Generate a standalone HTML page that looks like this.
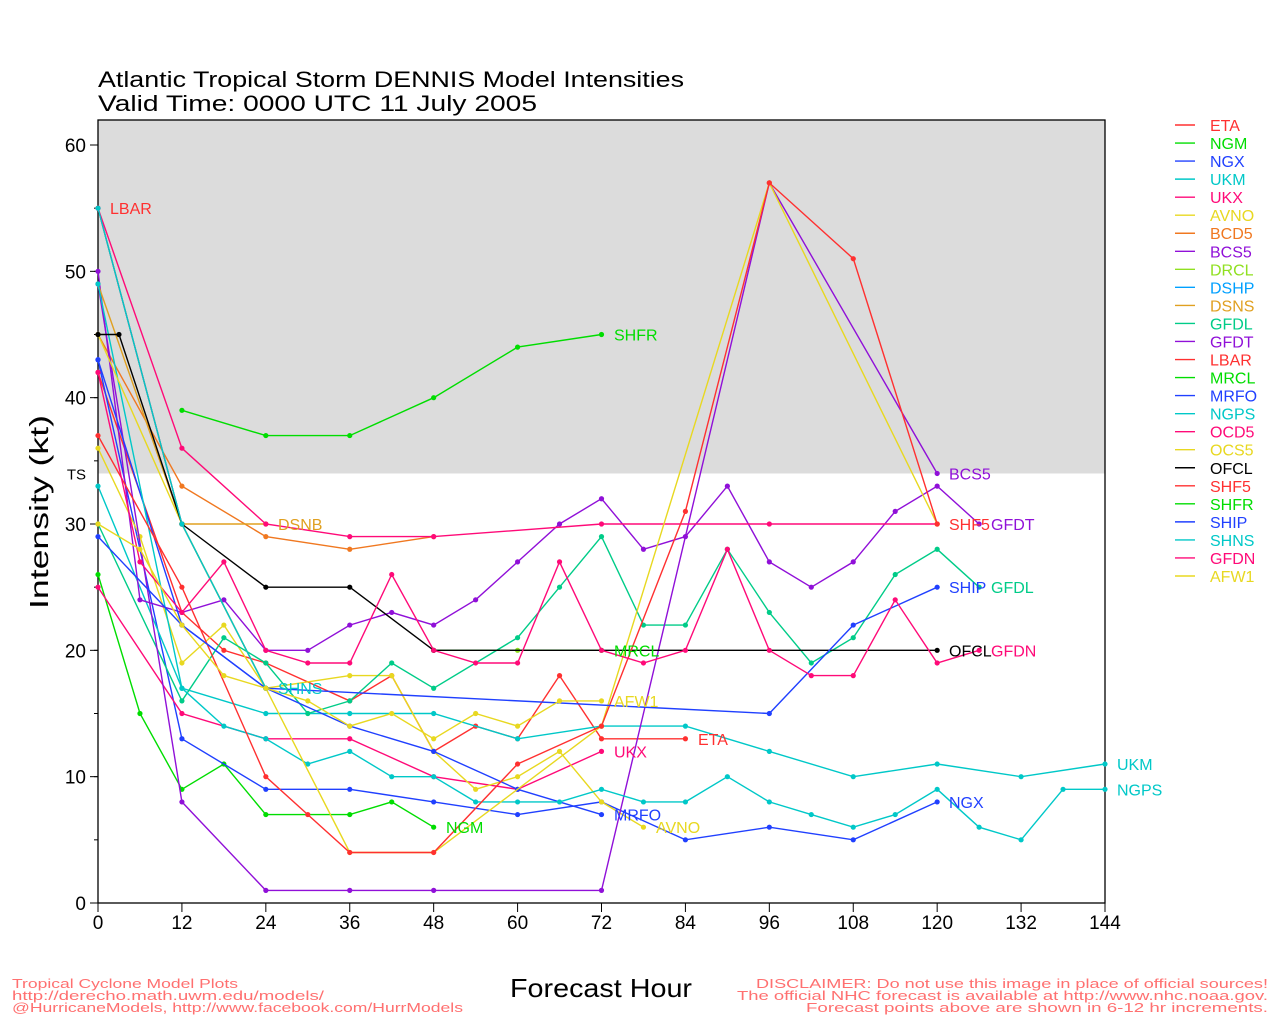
<!DOCTYPE html>
<html><head><meta charset="utf-8"><style>
html,body{margin:0;padding:0;background:#fff;width:1280px;height:1024px;overflow:hidden}
svg text{font-family:"Liberation Sans",sans-serif}
</style></head><body>
<svg id="s" width="1280" height="1024" xmlns="http://www.w3.org/2000/svg">
<rect x="98" y="120" width="1007" height="353.5" fill="#dcdcdc"/>
<rect x="98" y="120" width="1007" height="783" fill="none" stroke="#000" stroke-width="1.3"/>
<text x="98" y="87" font-size="22" textLength="586" lengthAdjust="spacingAndGlyphs">Atlantic Tropical Storm DENNIS Model Intensities</text>
<text x="98" y="111" font-size="22" textLength="439" lengthAdjust="spacingAndGlyphs">Valid Time: 0000 UTC 11 July 2005</text>
<text x="48" y="512" font-size="26" transform="rotate(-90 48 512)" text-anchor="middle" textLength="194" lengthAdjust="spacingAndGlyphs">Intensity (kt)</text>
<text x="601" y="997" font-size="26" text-anchor="middle" textLength="182" lengthAdjust="spacingAndGlyphs">Forecast Hour</text>
<g font-size="13" fill="#ff7070">
<text x="12" y="988" textLength="226" lengthAdjust="spacingAndGlyphs">Tropical Cyclone Model Plots</text>
<text x="12" y="1000" textLength="312" lengthAdjust="spacingAndGlyphs">http://derecho.math.uwm.edu/models/</text>
<text x="12" y="1012" textLength="451" lengthAdjust="spacingAndGlyphs">@HurricaneModels, http://www.facebook.com/HurrModels</text>
<text x="1268" y="988" text-anchor="end" textLength="512" lengthAdjust="spacingAndGlyphs">DISCLAIMER: Do not use this image in place of official sources!</text>
<text x="1268" y="1000" text-anchor="end" textLength="531" lengthAdjust="spacingAndGlyphs">The official NHC forecast is available at http://www.nhc.noaa.gov.</text>
<text x="1268" y="1012" text-anchor="end" textLength="462" lengthAdjust="spacingAndGlyphs">Forecast points above are shown in 6-12 hr increments.</text>
</g>
<g id="ax"></g><g id="ser"></g><g id="leg"></g>
</svg>
<script>
var NS="http://www.w3.org/2000/svg";
function X(h){return 98+h*1007/144}
function Y(v){return 903-v*758/60}
function el(p,t,a,txt){var e=document.createElementNS(NS,t);for(var k in a)e.setAttribute(k,a[k]);if(txt!=null)e.textContent=txt;p.appendChild(e);return e}
var ax=document.getElementById('ax'),ser=document.getElementById('ser'),leg=document.getElementById('leg');
for(var v=0;v<=60;v+=10){el(ax,'line',{x1:90,x2:98,y1:Y(v),y2:Y(v),stroke:'#000'});el(ax,'text',{x:86,y:Y(v)+7,'font-size':19,'text-anchor':'end'},v)}
for(var v=0;v<=60;v+=5){el(ax,'line',{x1:94,x2:98,y1:Y(v),y2:Y(v),stroke:'#000'})}
el(ax,'text',{x:86,y:Y(34)+6,'font-size':15,'text-anchor':'end'},'TS');
for(var h=0;h<=144;h+=12){el(ax,'line',{x1:X(h),x2:X(h),y1:903,y2:912,stroke:'#000'});el(ax,'text',{x:X(h),y:929,'font-size':19,'text-anchor':'middle'},h)}
var C={r:'#ff3030',g:'#00dd00',b:'#2040ff',c:'#00c8c8',p:'#ff0a78',y:'#e8d820',o:'#f07820',v:'#9010d8',lg:'#90e020',db:'#00a0ff',dn:'#e0a020',gt:'#00cc88',k:'#000'};
var S=[
['ETA',C.r,[[0,42],[12,23],[18,20],[24,19],[36,16],[42,18],[48,12],[54,14],[60,13],[66,18],[72,13],[84,13]],1],
['NGM',C.g,[[0,26],[6,15],[12,9],[18,11],[24,7],[36,7],[42,8],[48,6]],1],
['NGX',C.b,[[0,43],[12,13],[24,9],[36,9],[48,8],[60,7],[72,8],[84,5],[96,6],[108,5],[120,8]],1],
['UKM',C.c,[[0,33],[12,17],[24,15],[36,15],[48,15],[60,13],[72,14],[84,14],[96,12],[108,10],[120,11],[132,10],[144,11]],1],
['UKX',C.p,[[0,25],[12,15],[24,13],[36,13],[48,10],[60,9],[72,12]],1],
['AVNO',C.y,[[0,36],[6,29],[12,19],[18,22],[24,17],[36,18],[42,18],[48,12],[54,9],[60,10],[66,12],[72,8],[78,6]],1],
['BCD5',C.o,[[0,45],[12,33],[24,29],[36,28],[48,29]],0],
['BCS5',C.v,[[0,50],[6,24],[12,23],[18,24],[24,20],[30,20],[36,22],[42,23],[48,22],[54,24],[60,27],[66,30],[72,32],[78,28],[84,29],[90,33],[96,27],[102,25],[108,27],[114,31],[120,33],[126,30]],0],
['DRCL',C.lg,[[60,20],[72,20]],0],
['DSHP',C.db,[[0,55],[12,30],[24,17]],0],
['DSNS',C.dn,[[0,49],[12,30],[24,30]],0],
['GFDL',C.gt,[[0,30],[12,16],[18,21],[24,19],[30,15],[36,16],[42,19],[48,17],[60,21],[66,25],[72,29],[78,22],[84,22],[90,28],[96,23],[102,19],[108,21],[114,26],[120,28],[126,25]],0],
['GFDT',C.v,[[0,49],[12,8],[24,1],[36,1],[48,1],[72,1],[96,57],[120,34]],0],
['LBAR',C.r,[[0,55],[12,30],[24,17]],0],
['MRCL',C.g,[[48,20],[72,20]],0],
['MRFO',C.b,[[0,43],[12,22],[24,17],[36,14],[48,12],[60,9],[72,7]],1],
['NGPS',C.c,[[0,49],[12,17],[18,14],[24,13],[30,11],[36,12],[42,10],[48,10],[54,8],[60,8],[66,8],[72,9],[78,8],[84,8],[90,10],[96,8],[102,7],[108,6],[114,7],[120,9],[126,6],[132,5],[138,9],[144,9]],1],
['OCD5',C.p,[[0,55],[12,36],[24,30],[36,29],[48,29],[72,30],[96,30],[120,30]],0],
['OCS5',C.y,[[0,45],[12,30],[24,17],[36,4],[48,4],[72,14],[96,57],[120,30]],0],
['OFCL',C.k,[[0,45],[3,45],[12,30],[24,25],[36,25],[48,20],[120,20]],1],
['SHF5',C.r,[[0,37],[12,25],[24,10],[30,7],[36,4],[48,4],[60,11],[72,14],[84,31],[96,57],[108,51],[120,30]],0],
['SHFR',C.g,[[12,39],[24,37],[36,37],[48,40],[60,44],[72,45]],1],
['SHIP',C.b,[[0,29],[12,22],[24,17],[96,15],[108,22],[120,25]],1],
['SHNS',C.c,[[0,55],[12,30],[24,17]],0],
['GFDN',C.p,[[0,42],[6,27],[12,23],[18,27],[24,20],[30,19],[36,19],[42,26],[48,20],[54,19],[60,19],[66,27],[72,20],[78,19],[84,20],[90,28],[96,20],[102,18],[108,18],[114,24],[120,19],[126,20]],0],
['AFW1',C.y,[[0,30],[6,28],[12,22],[18,18],[24,17],[30,16],[36,14],[42,15],[48,13],[54,15],[60,14],[66,16],[72,16]],0]
];
S.forEach(function(s,i){
 var pts=s[2].map(function(p){return X(p[0]).toFixed(1)+','+Y(p[1]).toFixed(1)}).join(' ');
 el(ser,'polyline',{points:pts,fill:'none',stroke:s[1],'stroke-width':1.4});
 s[2].forEach(function(p){el(ser,'circle',{cx:X(p[0]),cy:Y(p[1]),r:2.6,fill:s[1]})});
 var ly=125+i*18.04;
 el(leg,'line',{x1:1175,x2:1195,y1:ly,y2:ly,stroke:s[1],'stroke-width':1.4});
 el(leg,'text',{x:1210,y:ly+6,'font-size':16,fill:s[1]},s[0]);
});
var L=[['LBAR',C.r,110,55],['SHFR',C.g,614,45],['DSNB',C.dn,278,30],['SHNS',C.c,278,17],['MRCL',C.g,614,20],['AFW1',C.y,614,16],['UKX',C.p,614,12],['ETA',C.r,698,13],['MRFO',C.b,614,7],['AVNO',C.y,656,6],['NGM',C.g,446,6],['BCS5',C.v,949,34],['SHF5',C.r,949,30],['GFDT',C.v,991,30],['SHIP',C.b,949,25],['GFDL',C.gt,991,25],['OFCL',C.k,949,20],['GFDN',C.p,991,20],['NGX',C.b,949,8],['UKM',C.c,1117,11],['NGPS',C.c,1117,9]];
L.forEach(function(l){el(leg,'text',{x:l[2],y:Y(l[3])+6,'font-size':16,fill:l[1]},l[0])});
</script>
</body></html>
